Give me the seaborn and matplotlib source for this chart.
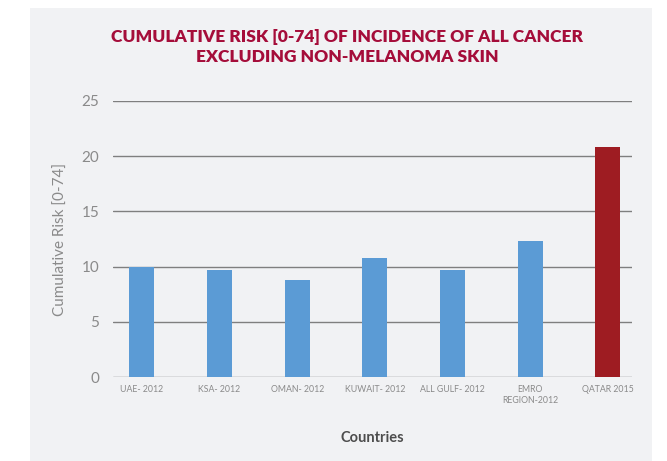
import matplotlib.pyplot as plt
import pandas as pd
import seaborn as sns
from matplotlib.patches import Rectangle

# ## Data

countries = [
    "UAE- 2012",
    "KSA- 2012",
    "OMAN- 2012",
    "KUWAIT- 2012",
    "ALL GULF- 2012",
    "EMRO\nREGION-2012",
    "QATAR 2015",
]
risk = [10.0, 9.65, 8.75, 10.8, 9.65, 12.3, 20.8]
bar_colors = ["#5b9bd5"] * 6 + ["#9e1c22"]
yticks = [0, 5, 10, 15, 20, 25]

df = pd.DataFrame({"country": countries, "risk": risk})

# ## Plot

sns.set_style("white")
plt.rcParams["font.family"] = ["Lato", "DejaVu Sans"]

fig = plt.figure(figsize=(6.67, 4.61), dpi=100, facecolor="white")

# grey panel behind the chart
fig.patches.append(
    Rectangle(
        (30 / 667, 0), 622 / 667, 453 / 461,
        transform=fig.transFigure, facecolor="#f1f2f4",
        edgecolor="none", zorder=-1,
    )
)

ax = fig.add_axes([113 / 667, 84 / 461, 519 / 667, 276 / 461])
ax.set_facecolor("none")

sns.barplot(
    data=df,
    x="country",
    y="risk",
    hue="country",
    palette=bar_colors,
    legend=False,
    width=0.32,
    saturation=1,
    linewidth=0,
    ax=ax,
    zorder=3,
)

ax.set_ylim(0, 25)
ax.set_xlim(-0.37, 6.31)
ax.set_yticks(yticks)
ax.yaxis.grid(True, color="#7f7f7f", linewidth=1.0, zorder=0)
ax.set_axisbelow(True)
sns.despine(ax=ax, left=True, top=True, right=True, bottom=True)
ax.tick_params(axis="both", length=0)
ax.tick_params(axis="y", labelsize=11, labelcolor="#8a8a8a", pad=10)
ax.tick_params(axis="x", labelsize=6.3, labelcolor="#8a8a8a", pad=6)

ax.set_xlabel("Countries", fontsize=10.5, fontweight="bold",
              color="#4d4d4d", labelpad=19)
ax.set_ylabel("Cumulative Risk [0-74]", fontsize=11, color="#8a8a8a",
              labelpad=10)

fig.text(
    347 / 667, 1 - 47 / 461,
    "CUMULATIVE RISK [0-74] OF INCIDENCE OF ALL CANCER\n"
    "EXCLUDING NON-MELANOMA SKIN",
    ha="center", va="center", fontsize=12.5, fontweight="heavy",
    color="#a50d3a", linespacing=1.35,
)

fig.savefig("out.png", dpi=100, facecolor="white")
